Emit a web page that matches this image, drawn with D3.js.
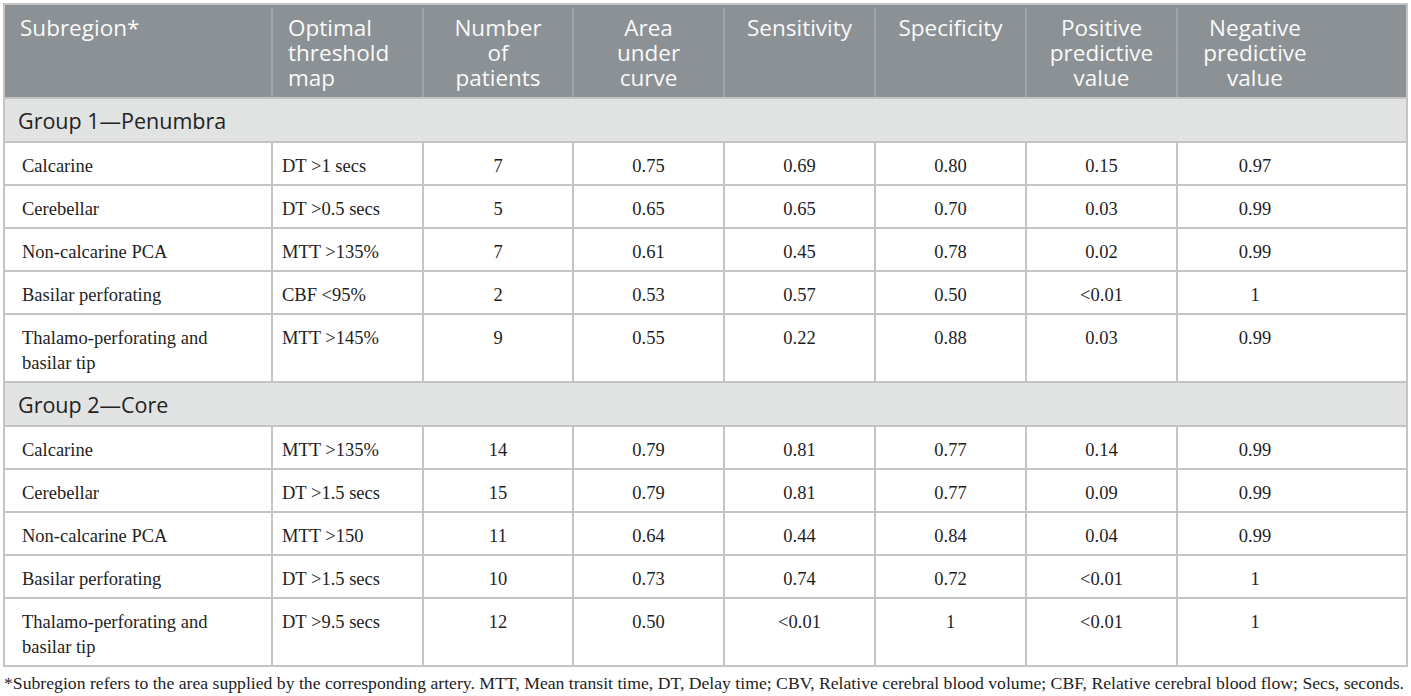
<!DOCTYPE html>
<html>
<head>
<meta charset="utf-8">
<script src="https://cdn.jsdelivr.net/npm/d3@7"></script>
<style>
  body { margin: 0; background: #fff; }
  svg { display: block; }
</style>
</head>
<body>
<svg width="1411" height="696"></svg>
<script>
// table content
var headers = [["Subregion*"], ["Optimal", "threshold", "map"], ["Number", "of", "patients"],
    ["Area", "under", "curve"], ["Sensitivity"], ["Specificity"],
    ["Positive", "predictive", "value"], ["Negative", "predictive", "value"]];
var groups = ["Group 1\u2014Penumbra", "Group 2\u2014Core"];
var subregions = [["Calcarine"], ["Cerebellar"], ["Non-calcarine PCA"], ["Basilar perforating"],
    ["Thalamo-perforating and", "basilar tip"]];
var thresholds1 = ["DT >1 secs", "DT >0.5 secs", "MTT >135%", "CBF <95%", "MTT >145%"];
var thresholds2 = ["MTT >135%", "DT >1.5 secs", "MTT >150", "DT >1.5 secs", "DT >9.5 secs"];
var patients1 = ["7", "5", "7", "2", "9"];
var patients2 = ["14", "15", "11", "10", "12"];
var auc1 = ["0.75", "0.65", "0.61", "0.53", "0.55"];
var auc2 = ["0.79", "0.79", "0.64", "0.73", "0.50"];
var sens1 = ["0.69", "0.65", "0.45", "0.57", "0.22"];
var sens2 = ["0.81", "0.81", "0.44", "0.74", "<0.01"];
var spec1 = ["0.80", "0.70", "0.78", "0.50", "0.88"];
var spec2 = ["0.77", "0.77", "0.84", "0.72", "1"];
var ppv1 = ["0.15", "0.03", "0.02", "<0.01", "0.03"];
var ppv2 = ["0.14", "0.09", "0.04", "<0.01", "<0.01"];
var npv1 = ["0.97", "0.99", "0.99", "1", "0.99"];
var npv2 = ["0.99", "0.99", "0.99", "1", "1"];
var footnote = "*Subregion refers to the area supplied by the corresponding artery. MTT, Mean transit time, DT, Delay time; CBV, Relative cerebral blood volume; CBF, Relative cerebral blood flow; Secs, seconds.";

// layout
var edges = [4, 272, 423, 573, 724, 875, 1026, 1177, 1407];
var tableTop = 4, headH = 94, groupH = 44, rowH = 43, lineH = 25;
var sans = "'Open Sans', sans-serif", serif = "'Liberation Serif', 'Times New Roman', serif";
var cols = d3.range(8);

var scL = d3.scaleOrdinal().domain(cols).range(edges.slice(0, 8));
var scR = d3.scaleOrdinal().domain(cols).range(edges.slice(1));
// text x per column: first two left aligned, last one sits left of center like the source
var textX = function(c, isHead) {
    if (c == 0) return scL(c) + (isHead ? 16 : 18);
    if (c == 1) return scL(c) + (isHead ? 16 : 10);
    if (c == 7) return scL(c) + 78;
    return (scL(c) + scR(c)) / 2;
};
var anchor = c => c < 2 ? "start" : "middle";

var groupData = [
    {title: groups[0], cols: [subregions, thresholds1, patients1, auc1, sens1, spec1, ppv1, npv1]},
    {title: groups[1], cols: [subregions, thresholds2, patients2, auc2, sens2, spec2, ppv2, npv2]}
];

// build rows top to bottom
var rows = [], y = tableTop + headH;
groupData.forEach(function(g) {
    rows.push({type: "group", y: y, h: groupH, title: g.title});
    y += groupH;
    subregions.forEach(function(s, i) {
        var h = s.length > 1 ? rowH + lineH : rowH;
        var cells = g.cols.map(a => [].concat(a[i]));
        rows.push({type: "row", y: y, h: h, cells: cells});
        y += h;
    });
});
var bottom = y;

var svg = d3.select("svg");

// header
var head = svg.append("g").attr("id", "head");
head.append("rect")
    .attr("x", edges[0]).attr("y", tableTop)
    .attr("width", edges[8] - edges[0]).attr("height", headH)
    .attr("fill", "#8b9194");
head.selectAll("line")
    .data(cols.slice(1)).enter()
    .append("line")
    .attr("x1", c => scL(c)).attr("x2", c => scL(c))
    .attr("y1", tableTop + 4).attr("y2", tableTop + headH)
    .attr("stroke", "#a9adb0").attr("stroke-width", 1.5);
head.selectAll("text")
    .data(cols).enter()
    .append("text")
    .attr("x", c => textX(c, true))
    .attr("text-anchor", anchor)
    .attr("font-family", sans).attr("font-size", 22.5)
    .attr("fill", "#f9f9f9")
    .selectAll("tspan")
    .data(c => headers[c].map((t, k) => ({t: t, k: k, c: c}))).enter()
    .append("tspan")
    .attr("x", d => textX(d.c, true))
    .attr("y", d => tableTop + 32 + d.k * lineH)
    .text(d => d.t);

// body rows
var body = svg.append("g").attr("id", "body");
var rg = body.selectAll("g")
    .data(rows).enter()
    .append("g")
    .attr("transform", d => "translate(0," + d.y + ")");

rg.filter(d => d.type == "group")
    .append("rect")
    .attr("x", edges[0]).attr("width", edges[8] - edges[0])
    .attr("height", d => d.h)
    .attr("fill", "#e1e2e2");
rg.filter(d => d.type == "group")
    .append("text")
    .attr("x", edges[0] + 14).attr("y", 31)
    .attr("font-family", sans).attr("font-size", 21.5)
    .attr("fill", "#222")
    .text(d => d.title);

var dr = rg.filter(d => d.type == "row");
dr.selectAll("line")
    .data(d => cols.slice(1).map(c => ({c: c, h: d.h}))).enter()
    .append("line")
    .attr("x1", d => scL(d.c)).attr("x2", d => scL(d.c))
    .attr("y1", 0).attr("y2", d => d.h)
    .attr("stroke", "#c4c4c4").attr("stroke-width", 2);
dr.selectAll("text")
    .data(d => d.cells.map((lines, c) => ({lines: lines, c: c}))).enter()
    .append("text")
    .attr("text-anchor", d => anchor(d.c))
    .attr("font-family", serif).attr("font-size", 18.5)
    .attr("fill", "#1e1e1e")
    .selectAll("tspan")
    .data(d => d.lines.map((t, k) => ({t: t, k: k, c: d.c}))).enter()
    .append("tspan")
    .attr("x", d => textX(d.c, false))
    .attr("y", d => 30 + d.k * lineH)
    .text(d => d.t);

// horizontal rules between rows
body.selectAll("line.hr")
    .data(rows.map(r => r.y).concat([bottom])).enter()
    .append("line").attr("class", "hr")
    .attr("x1", edges[0]).attr("x2", edges[8])
    .attr("y1", d => d).attr("y2", d => d)
    .attr("stroke", "#c4c4c4").attr("stroke-width", 2);

// outer frame
svg.append("rect")
    .attr("x", edges[0]).attr("y", tableTop)
    .attr("width", edges[8] - edges[0]).attr("height", bottom - tableTop)
    .attr("fill", "none").attr("stroke", "#c4c4c4").attr("stroke-width", 2);

// footnote, sized to the table width
var fn = svg.append("text")
    .attr("x", edges[0]).attr("y", bottom + 23)
    .attr("font-family", serif).attr("font-size", 16.5)
    .attr("fill", "#1e1e1e")
    .text(footnote);
var w = fn.node().getComputedTextLength();
fn.attr("font-size", 16.5 * (edges[8] - edges[0] - 2) / w);
</script>
</body>
</html>
